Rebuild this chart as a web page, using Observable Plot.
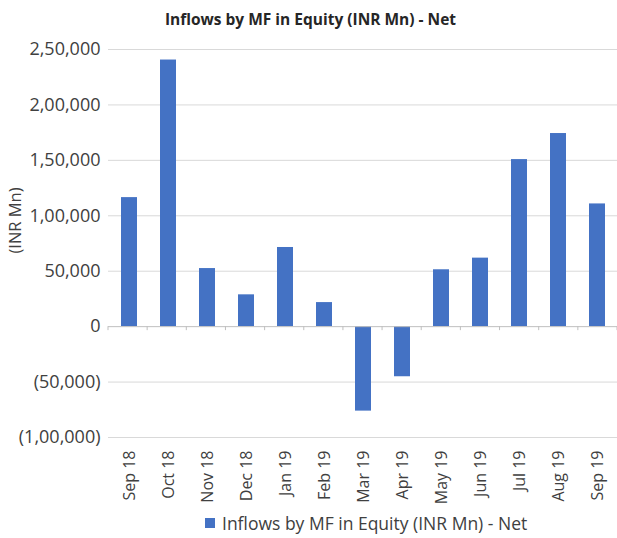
<!DOCTYPE html>
<html>
<head>
<meta charset="utf-8">
<script src="https://cdn.jsdelivr.net/npm/d3@7"></script>
<script src="https://cdn.jsdelivr.net/npm/@observablehq/plot@0.6"></script>
<style>
  html, body { margin: 0; padding: 0; background: #fff; overflow: hidden; }
  body { width: 617px; height: 538px; font-family: "Open Sans", sans-serif; }
  #title { height: 36px; line-height: 38px; text-align: center; font-weight: bold; font-size: 15.5px; color: #262626; padding-left: 4px; }
  #legend { display: flex; align-items: center; margin-left: 205px; margin-top: 3px; font-size: 17.5px; color: #404040; }
  #legend .sw { width: 10px; height: 10px; background: #4472c4; margin-right: 7px; }
</style>
</head>
<body>
<div id="title">Inflows by MF in Equity (INR Mn) - Net</div>
<div id="chart"></div>
<div id="legend"><div class="sw"></div><span>Inflows by MF in Equity (INR Mn) - Net</span></div>
<script>
const months = ["Sep 18","Oct 18","Nov 18","Dec 18","Jan 19","Feb 19","Mar 19","Apr 19","May 19","Jun 19","Jul 19","Aug 19","Sep 19"];
const values = [116400, 240500, 52400, 28700, 71400, 21700, -76200, -45200, 51300, 61800, 150700, 174200, 110700];
const yTicks = [-100000, -50000, 0, 50000, 100000, 150000, 200000, 250000];
const seriesName = "Inflows by MF in Equity (INR Mn) - Net";
const yLabel = "(INR Mn)";

const data = months.map((m, i) => ({month: m, value: values[i]}));

function inr(n) {
  const s = String(Math.round(Math.abs(n)));
  if (s.length <= 3) return s;
  const last3 = s.slice(-3);
  const rest = s.slice(0, -3).replace(/\B(?=(\d{2})+(?!\d))/g, ",");
  return rest + "," + last3;
}
const fmt = d => d < 0 ? `(${inr(-d)})` : inr(d);

const zeroTicks = (index, scales, values, dimensions) => {
  const {width, marginLeft, marginRight} = dimensions;
  const n = months.length;
  const step = (width - marginLeft - marginRight) / n;
  const y0 = scales.y(0);
  const g = d3.create("svg:g");
  let p = "";
  for (let i = 0; i <= n; i++) {
    const x = marginLeft + i * step;
    p += `M${x},${y0}V${y0 + 4}`;
  }
  g.append("path").attr("d", p).attr("stroke", "#bfbfbf").attr("stroke-width", 1).attr("fill", "none");
  return g.node();
};

const chart = Plot.plot({
  width: 617,
  height: 472,
  marginLeft: 108,
  marginRight: 0,
  marginTop: 13,
  marginBottom: 71,
  style: {fontFamily: "Open Sans, sans-serif", fontSize: "18px", color: "#404040", background: "transparent"},
  x: {domain: months, paddingInner: 0.6, paddingOuter: 0.3, label: null},
  y: {domain: [-100000, 250000], ticks: yTicks, label: null},
  marks: [
    Plot.ruleY(yTicks.filter(d => d !== 0), {stroke: "#d9d9d9", strokeWidth: 1}),
    Plot.barY(data, {x: "month", y: "value", fill: "#4472c4"}),
    Plot.ruleY([0], {stroke: "#bfbfbf", strokeWidth: 1}),
    zeroTicks,
    Plot.axisY({ticks: yTicks, tickSize: 0, tickPadding: 8, tickFormat: fmt, fontSize: 18, fill: "#404040", label: null}),
    Plot.axisX({anchor: "bottom", tickSize: 0, tickPadding: 13, tickRotate: -90, fontSize: 16, fill: "#404040", label: null}),
    Plot.text([yLabel], {frameAnchor: "left", rotate: -90, textAnchor: "middle", dx: -93, dy: -23, fontSize: 16.5, fill: "#404040"})
  ]
});
document.getElementById("chart").appendChild(chart);
</script>
</body>
</html>
